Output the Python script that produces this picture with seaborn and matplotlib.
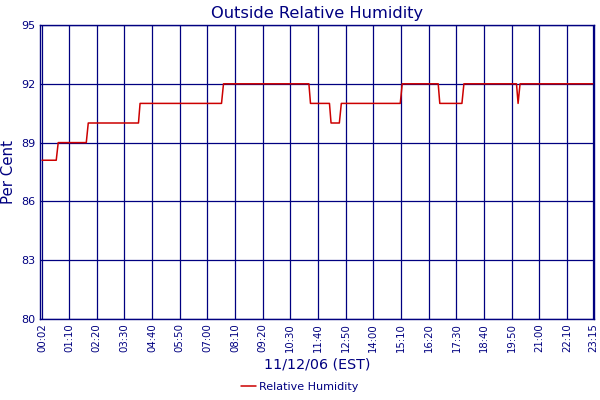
import matplotlib
matplotlib.use("Agg")
import matplotlib.pyplot as plt
import seaborn as sns
import pandas as pd

# breakpoints of the humidity trace (minutes after midnight, % RH)
minutes = [2, 38, 43, 114, 119, 246, 250, 456, 461, 677, 681, 729, 733,
           754, 759, 908, 913, 1004, 1008, 1064, 1069, 1202, 1206, 1211, 1395]
humidity = [88.1, 88.1, 89, 89, 90, 90, 91, 91, 92, 92, 91, 91, 90,
            90, 91, 91, 92, 92, 91, 91, 92, 92, 91, 92, 92]

tick_minutes = [2, 70, 140, 210, 280, 350, 420, 490, 560, 630, 700, 770,
                840, 910, 980, 1050, 1120, 1190, 1260, 1330, 1395]
tick_labels = ["00:02", "01:10", "02:20", "03:30", "04:40", "05:50", "07:00",
               "08:10", "09:20", "10:30", "11:40", "12:50", "14:00", "15:10",
               "16:20", "17:30", "18:40", "19:50", "21:00", "22:10", "23:15"]
y_ticks = [80, 83, 86, 89, 92, 95]

navy = "#000080"
red = "#cc0000"

df = pd.DataFrame({"minute": minutes, "rh": humidity})

sns.set_style("white")
plt.rcParams["font.family"] = ["DejaVu Sans"]

fig, ax = plt.subplots(figsize=(6, 4), dpi=100)
fig.subplots_adjust(left=0.0667, right=0.99, top=0.9375, bottom=0.2025)

sns.lineplot(data=df, x="minute", y="rh", ax=ax, color=red, lw=1.1,
             estimator=None, sort=False, label="Relative Humidity", legend=False)

ax.set_xlim(-3, 1398)
ax.set_ylim(80, 95)
ax.set_xticks(tick_minutes)
ax.set_xticklabels(tick_labels, rotation=90, fontsize=7.3, color=navy)
ax.set_yticks(y_ticks)
ax.set_yticklabels([str(v) for v in y_ticks], fontsize=8, color=navy)
ax.tick_params(length=0, pad=3)
ax.grid(True, color=navy, lw=0.9)
for s in ax.spines.values():
    s.set_color(navy)
    s.set_linewidth(1.0)

ax.set_title("Outside Relative Humidity", color=navy, fontsize=11.7, pad=5)
ax.set_xlabel("11/12/06 (EST)", color=navy, fontsize=10.3, labelpad=4)
ax.set_ylabel("Per Cent", color=navy, fontsize=10.8, labelpad=4)

fig.legend(loc="lower center", bbox_to_anchor=(0.5, -0.005), frameon=False,
           fontsize=8, handlelength=1.3, handletextpad=0.3, labelcolor=navy)

fig.savefig("out.png", dpi=100)
